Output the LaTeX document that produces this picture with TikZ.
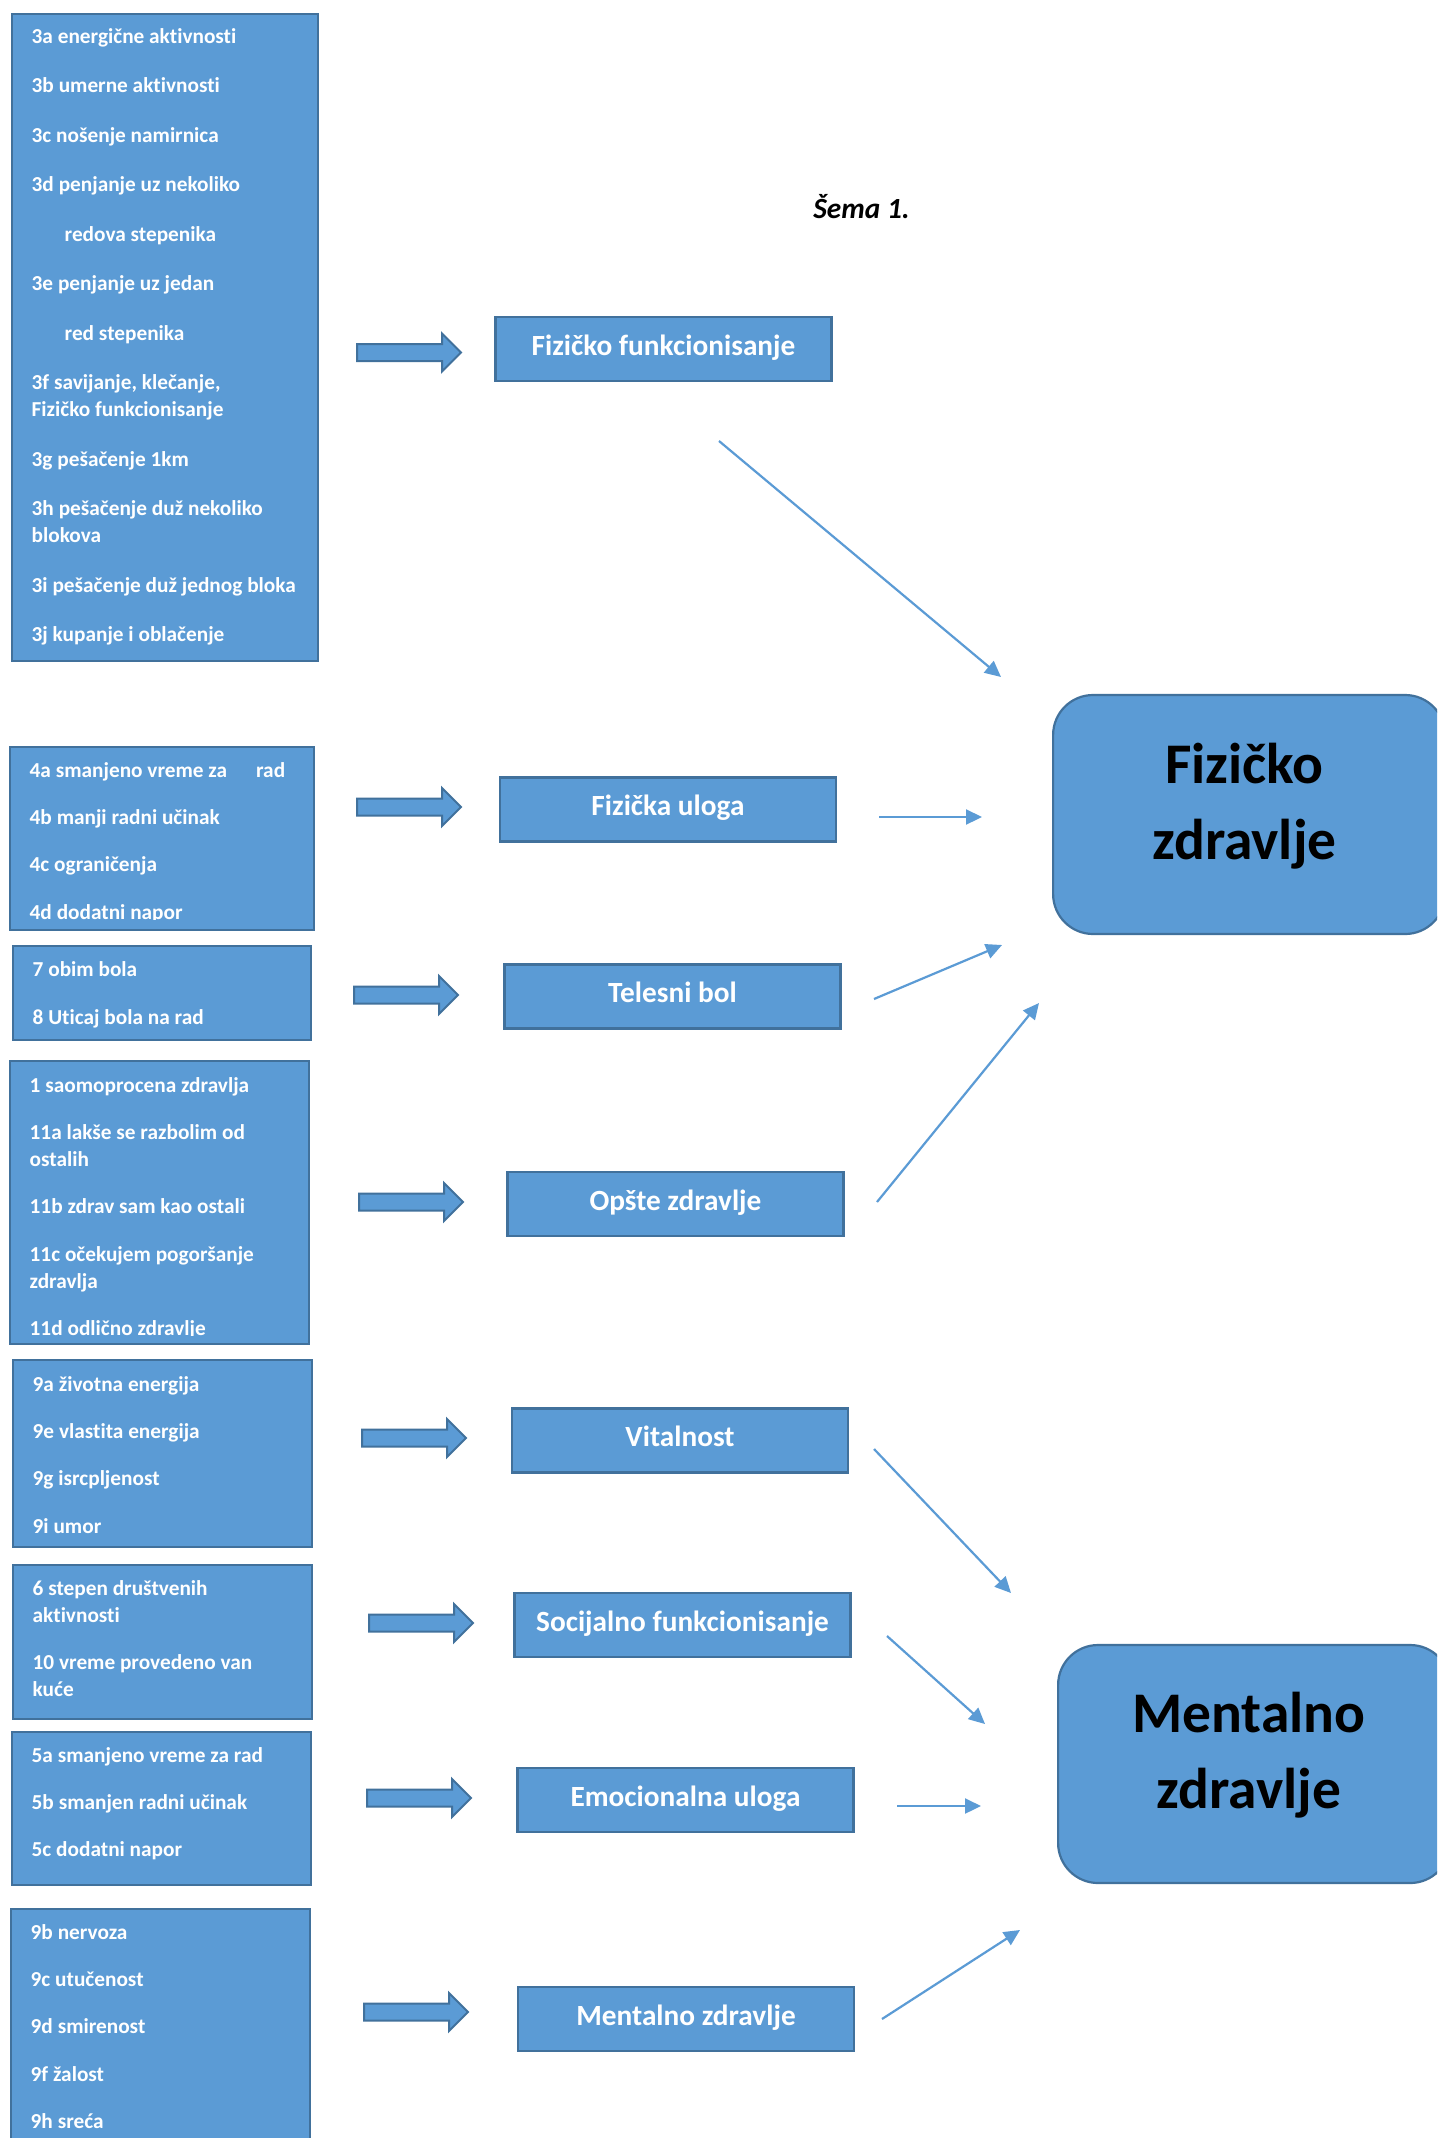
\documentclass[tikz,border=0pt]{standalone}
\usepackage{fontspec}
\setmainfont{Carlito}[Ligatures={NoCommon}]
\usetikzlibrary{arrows.meta}
\definecolor{boxfill}{HTML}{5B9BD5}
\definecolor{boxline}{HTML}{41719C}
\begin{document}
\begin{tikzpicture}[x=1pt,y=-1pt,
  itembox/.style={draw=boxline,fill=boxfill,line width=2.2pt,anchor=north west,inner sep=0pt},
  itemtext/.style={anchor=north west,inner sep=0pt,xshift=20.5pt,yshift=-12pt,align=left,text=white,
    font=\fontsize{21.3}{27}\selectfont\bfseries},
  midbox/.style={draw=boxline,fill=boxfill,line width=2.2pt,inner sep=0pt,minimum width=336pt,minimum height=64pt,
    text=white,text height=20pt,text depth=8pt,font=\fontsize{29.3}{35}\selectfont\bfseries},
  bigbox/.style={draw=boxline,fill=boxfill,line width=2.2pt,rounded corners=40pt,inner sep=0pt,anchor=west},
  bigtext/.style={anchor=north,inner sep=0pt,align=center,font=\fontsize{57.5}{76}\selectfont\bfseries},
  link/.style={draw=boxfill,line width=2.2pt,-{Triangle[length=16pt,width=15pt]}},
  pics/fatarrow/.style={code={
    \draw[draw=boxline,fill=boxfill,line width=2pt,line join=miter]
      (0,-8.5) -- (85,-8.5) -- (85,-19) -- (104,0) -- (85,19) -- (85,8.5) -- (0,8.5) -- cycle;}}
]
\useasboundingbox (0,0) rectangle (1437,2138);
\clip (0,0) rectangle (1437,2138);
\fill[white] (0,0) rectangle (1437,2138);

\node[font=\fontsize{29.3}{35}\selectfont\bfseries\itshape,anchor=base] (sema) at (861.5,218) {Šema 1.};

\node[itembox,minimum width=306pt,minimum height=647pt] (itfunk) at (11,13) {};
\node[itemtext,yshift=1pt] (itfunktxt) at (itfunk.north west) {\strut 3a energične aktivnosti\\[22.5pt]
  3b umerne aktivnosti\\[22.5pt]
  3c nošenje namirnica\\[22.5pt]
  3d penjanje uz nekoliko\\[22.5pt]
  \hspace*{33pt}redova stepenika\\[22.5pt]
  3e penjanje uz jedan\\[22.5pt]
  \hspace*{33pt}red stepenika\\[22.5pt]
  3f savijanje, klečanje,\\
  Fizičko funkcionisanje\\[22.5pt]
  3g pešačenje 1km\\[22.5pt]
  3h pešačenje duž nekoliko\\
  blokova\\[22.5pt]
  3i pešačenje duž jednog bloka\\[22.5pt]
  3j kupanje i oblačenje};

\node[itembox,minimum width=304pt,minimum height=183pt] (itulog) at (9,746) {};
\begin{scope}
\clip (9,746) rectangle (313,919);
\node[itemtext] (itulogtxt) at (itulog.north west) {\strut 4a smanjeno vreme za\hspace*{29pt}rad\\[20.3pt]
  4b manji radni učinak\\[20.3pt]
  4c ograničenja\\[20.3pt]
  4d dodatni napor};
\end{scope}

\node[itembox,minimum width=298pt,minimum height=94pt] (itbol) at (12,945) {};
\node[itemtext] (itboltxt) at (itbol.north west) {\strut 7 obim bola\\[21pt]
  8 Uticaj bola na rad};

\node[itembox,minimum width=299pt,minimum height=283pt] (itopste) at (9,1060) {};
\begin{scope}
\clip (9,1060) rectangle (308,1335);
\node[itemtext,yshift=-1pt] (itopstetxt) at (itopste.north west) {\strut 1 saomoprocena zdravlja\\[20.3pt]
  11a lakše se razbolim od\\
  ostalih\\[20.3pt]
  11b zdrav sam kao ostali\\[20.3pt]
  11c očekujem pogoršanje\\
  zdravlja\\[20.3pt]
  11d odlično zdravlje};
\end{scope}

\node[itembox,minimum width=299pt,minimum height=187pt] (itvital) at (12,1359) {};
\node[itemtext,yshift=-1pt] (itvitaltxt) at (itvital.north west) {\strut 9a životna energija\\[20.3pt]
  9e vlastita energija\\[20.3pt]
  9g isrcpljenost\\[20.3pt]
  9i umor};

\node[itembox,minimum width=299pt,minimum height=154pt] (itsoc) at (12,1564) {};
\node[itemtext] (itsoctxt) at (itsoc.north west) {\strut 6 stepen društvenih\\
  aktivnosti\\[20.3pt]
  10 vreme provedeno van\\
  kuće};

\node[itembox,minimum width=299pt,minimum height=153pt] (itemoc) at (11,1731) {};
\node[itemtext] (itemoctxt) at (itemoc.north west) {\strut 5a smanjeno vreme za rad\\[20.3pt]
  5b smanjen radni učinak\\[20.3pt]
  5c dodatni napor};

\node[itembox,minimum width=299pt,minimum height=260pt] (itment) at (10,1908) {};
\node[itemtext] (itmenttxt) at (itment.north west) {\strut 9b nervoza\\[20.3pt]
  9c utučenost\\[20.3pt]
  9d smirenost\\[20.3pt]
  9f žalost\\[20.3pt]
  9h sreća};

\pic at (357,352.5) {fatarrow};
\pic at (357,807) {fatarrow};
\pic at (354,995) {fatarrow};
\pic at (359,1202) {fatarrow};
\pic at (362,1438) {fatarrow};
\pic at (369,1623) {fatarrow};
\pic at (367,1798) {fatarrow};
\pic at (364,2012) {fatarrow};

\node[midbox] (fizfun) at (663.5,349) {Fizičko funkcionisanje};
\node[midbox] (fizulo) at (668,809.5) {Fizička uloga};
\node[midbox] (telbol) at (672.5,996.5) {Telesni bol};
\node[midbox] (opszdr) at (675.5,1204) {Opšte zdravlje};
\node[midbox] (vital) at (680,1440.5) {Vitalnost};
\node[midbox] (socfun) at (682.5,1625) {Socijalno funkcionisanje};
\node[midbox] (emoulo) at (685.5,1800) {Emocionalna uloga};
\node[midbox] (menzdr) at (686,2019) {Mentalno zdravlje};

\node[bigbox,minimum width=392pt,minimum height=239pt] (fizicko) at (1052,814.5) {};
\node[bigtext] (fizickotxt) at (1244.5,729.8) {\strut Fizičko\\zdravlje};
\node[bigbox,minimum width=392pt,minimum height=238pt] (mentalno) at (1057,1764) {};
\node[bigtext] (mentalnotxt) at (1249,1678.8) {\strut Mentalno\\zdravlje};

\coordinate (f1) at (719,441);   \coordinate (g1) at (1001,677);
\coordinate (f2) at (879,817);   \coordinate (g2) at (982,817);
\coordinate (f3) at (874,999);   \coordinate (g3) at (1002,945);
\coordinate (f4) at (877,1202);  \coordinate (g4) at (1039,1003);
\coordinate (m1) at (874,1449);  \coordinate (n1) at (1011,1593);
\coordinate (m2) at (887,1636);  \coordinate (n2) at (985,1724);
\coordinate (m3) at (897,1806);  \coordinate (n3) at (981,1806);
\coordinate (m4) at (882,2019);  \coordinate (n4) at (1020,1930);

\draw[link] (f1) -- (g1);
\draw[link] (f2) -- (g2);
\draw[link] (f3) -- (g3);
\draw[link] (f4) -- (g4);
\draw[link] (m1) -- (n1);
\draw[link] (m2) -- (n2);
\draw[link] (m3) -- (n3);
\draw[link] (m4) -- (n4);
\end{tikzpicture}
\end{document}
